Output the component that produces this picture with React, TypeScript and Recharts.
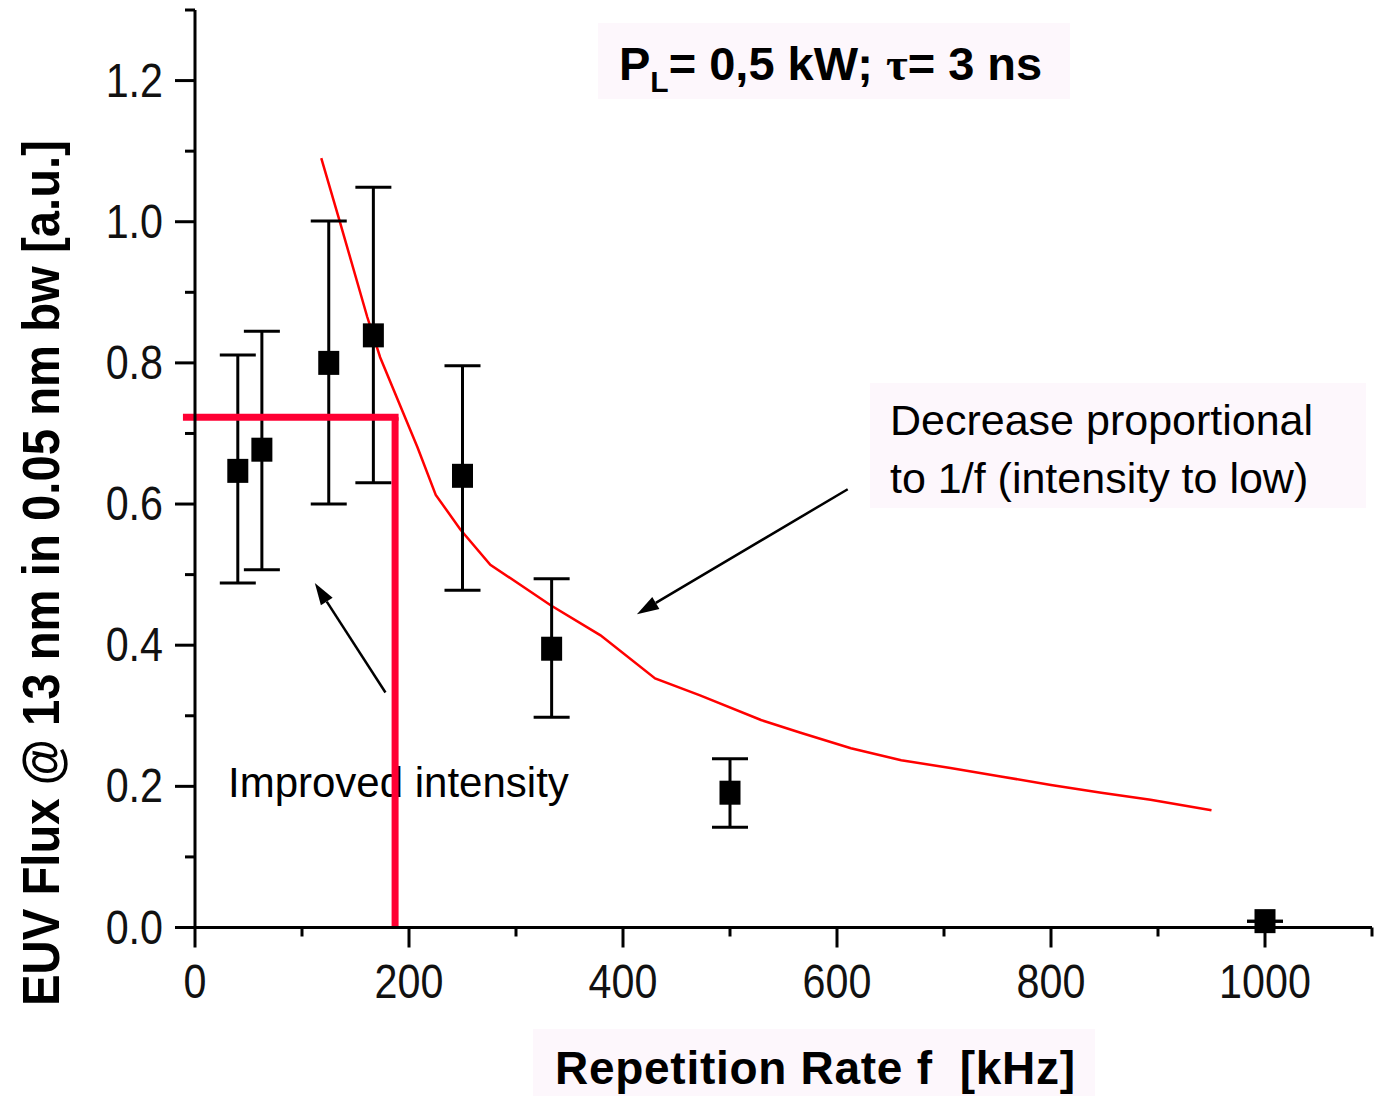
import React from 'react';
import { ComposedChart, Line, Scatter, ErrorBar, XAxis, YAxis, ReferenceLine } from 'recharts';

// measured points (repetition rate in kHz, flux in a.u.)
const freqKHz = [40, 62.5, 125, 166.7, 250, 333.3, 500, 1000];
const euvFlux = [0.647, 0.677, 0.8, 0.839, 0.64, 0.395, 0.191, 0.009];
const fluxUpper = [0.811, 0.845, 1.001, 1.049, 0.796, 0.494, 0.239, 0.009];
const fluxLower = [0.488, 0.507, 0.6, 0.63, 0.478, 0.298, 0.142, 0.009];

// red 1/f curve
const fitFreq = [118, 135, 161, 173, 208, 225, 248, 276, 332, 379, 430, 472, 529, 566, 613, 660, 706, 753, 800, 847, 893, 950];
const fitFlux = [1.09, 1.002, 0.865, 0.808, 0.68, 0.613, 0.564, 0.514, 0.457, 0.414, 0.353, 0.329, 0.294, 0.276, 0.254, 0.237, 0.226, 0.214, 0.202, 0.191, 0.181, 0.166];

const xTicks = [0, 100, 200, 300, 400, 500, 600, 700, 800, 900, 1000, 1100];
const yTicks = [0, 0.1, 0.2, 0.3, 0.4, 0.5, 0.6, 0.7, 0.8, 0.9, 1.0, 1.1, 1.2, 1.3];

// thick red marker
const limitStart = -8;
const limitFreq = 187;
const limitFlux = 0.723;

// annotation arrows: tail -> head
const arrowImproved = [{ x: 178, y: 0.333 }, { x: 112, y: 0.488 }];
const arrowDecrease = [{ x: 610, y: 0.621 }, { x: 413, y: 0.444 }];

const points = freqKHz.map((f, i) => ({
  x: f,
  y: euvFlux[i],
  err: [euvFlux[i] - fluxLower[i], fluxUpper[i] - euvFlux[i]],
}));
const fit = fitFreq.map((f, i) => ({ x: f, y: fitFlux[i] }));

const FONT = '"Liberation Sans", Arial, Helvetica, sans-serif';

const XTick = (props: any) => {
  const { x, y, payload } = props;
  const v = payload.value;
  const major = v % 200 === 0;
  return (
    <g>
      <line x1={x} y1={y} x2={x} y2={y + (major ? 20 : 9)} stroke="#000" strokeWidth={3} />
      {major && (
        <text transform={`translate(${x},${y + 70}) scale(0.86,1)`} textAnchor="middle" fontSize={48} fill="#111" fontFamily={FONT}>
          {v}
        </text>
      )}
    </g>
  );
};

const YTick = (props: any) => {
  const { x, y, payload } = props;
  const v = payload.value;
  const major = Math.round(v * 10) % 2 === 0;
  return (
    <g>
      <line x1={x} y1={y} x2={x - (major ? 20 : 10)} y2={y} stroke="#000" strokeWidth={3} />
      {major && (
        <text transform={`translate(${x - 32},${y + 16}) scale(0.86,1)`} textAnchor="end" fontSize={48} fill="#111" fontFamily={FONT}>
          {v.toFixed(1)}
        </text>
      )}
    </g>
  );
};

const Arrow = (p: any) => {
  const { x1, y1, x2, y2 } = p;
  const a = Math.atan2(y2 - y1, x2 - x1);
  const L = 22, W = 7;
  const bx = x2 - L * Math.cos(a);
  const by = y2 - L * Math.sin(a);
  const pts = `${x2},${y2} ${bx + W * Math.sin(a)},${by - W * Math.cos(a)} ${bx - W * Math.sin(a)},${by + W * Math.cos(a)}`;
  return (
    <g>
      <line x1={x1} y1={y1} x2={bx} y2={by} stroke="#000" strokeWidth={2.5} />
      <polygon points={pts} fill="#000" />
    </g>
  );
};

const Marker = (p: any) => <rect x={p.cx - 10.5} y={p.cy - 12} width={21} height={24} fill="#000" />;

const Annotations = () => (
  <svg width={1388} height={1096} style={{ position: 'absolute', left: 0, top: 0 }}>
    <rect x={598} y={23} width={472} height={76} fill="#fdf7fc" />
    <text x={619} y={80} fontSize={47} fontWeight="bold" fontFamily={FONT} fill="#000">
      P<tspan fontSize={30} dy={12}>L</tspan>
      <tspan dy={-12}>= 0,5 kW; </tspan>
      <tspan fontFamily='"Liberation Serif", "Times New Roman", serif'>τ</tspan>= 3 ns
    </text>

    <rect x={870} y={383} width={496} height={125} fill="#fdf7fc" />
    <text x={890} y={435} fontSize={43} fontFamily={FONT} fill="#000">Decrease proportional</text>
    <text x={890} y={493} fontSize={43} fontFamily={FONT} fill="#000">to 1/f (intensity to low)</text>

    <text x={228} y={797} fontSize={42} fontFamily={FONT} fill="#000">Improved intensity</text>

    <rect x={533} y={1029} width={562} height={67} fill="#fdf7fc" />
    <text x={555} y={1084} fontSize={46} fontWeight="bold" fontFamily={FONT} fill="#000" textLength={520} style={{ whiteSpace: 'pre' }}>
      Repetition Rate f  [kHz]
    </text>

    <text x={59} y={573} transform="rotate(-90, 59, 573)" textAnchor="middle" fontSize={52} fontWeight="bold" fontFamily={FONT} fill="#000" textLength={866} lengthAdjust="spacingAndGlyphs">
      EUV Flux @ 13 nm in 0.05 nm bw [a.u.]
    </text>
  </svg>
);

export default function App() {
  return (
    <div style={{ position: 'absolute', left: 0, top: 0, width: 1388, height: 1096, background: '#fff' }}>
      <Annotations />
      <div style={{ position: 'absolute', left: 0, top: 0 }}>
        <ComposedChart width={1388} height={1096} margin={{ top: 10, right: 16, bottom: 0, left: 0 }}>
          <XAxis
            dataKey="x"
            type="number"
            domain={[0, 1100]}
            ticks={xTicks}
            interval={0}
            height={168.5}
            tickSize={0}
            tickMargin={0}
            tickLine={false}
            axisLine={{ stroke: '#000', strokeWidth: 3 }}
            tick={(p: any) => <XTick {...p} />}
          />
          <YAxis
            dataKey="y"
            type="number"
            domain={[0, 1.3]}
            ticks={yTicks}
            interval={0}
            width={195}
            tickSize={0}
            tickMargin={0}
            tickLine={false}
            axisLine={{ stroke: '#000', strokeWidth: 3 }}
            tick={(p: any) => <YTick {...p} />}
          />
          <Line data={fit} dataKey="y" type="linear" stroke="#ff0000" strokeWidth={2.5} dot={false} isAnimationActive={false} />
          <Scatter data={points} fill="#000" shape={Marker} isAnimationActive={false}>
            <ErrorBar dataKey="err" direction="y" width={18} stroke="#000" strokeWidth={3} />
          </Scatter>
          <ReferenceLine segment={arrowImproved} ifOverflow="visible" shape={Arrow} />
          <ReferenceLine segment={arrowDecrease} ifOverflow="visible" shape={Arrow} />
          <ReferenceLine
            segment={[{ x: limitStart, y: limitFlux }, { x: limitFreq, y: limitFlux }]}
            ifOverflow="visible"
            stroke="#ff0033"
            strokeWidth={7}
            strokeLinecap="square"
          />
          <ReferenceLine
            segment={[{ x: limitFreq, y: limitFlux }, { x: limitFreq, y: 0 }]}
            ifOverflow="visible"
            stroke="#ff0033"
            strokeWidth={7}
          />
        </ComposedChart>
      </div>
    </div>
  );
}
